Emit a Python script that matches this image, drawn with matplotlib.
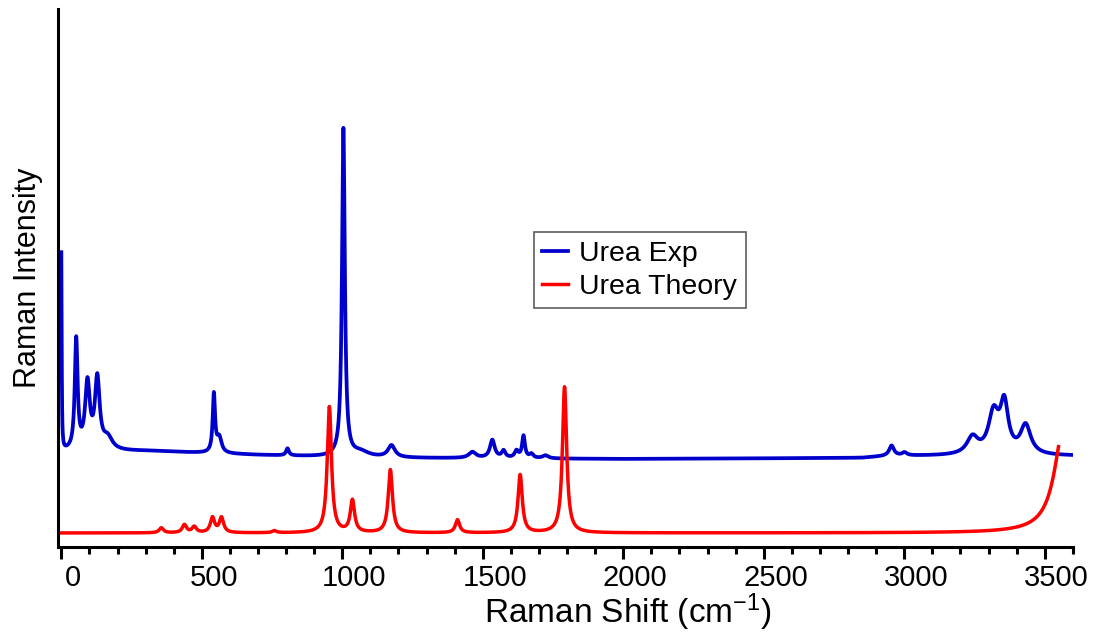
import numpy as np
import matplotlib.pyplot as plt
from matplotlib.transforms import ScaledTranslation

plt.rcParams['font.family'] = ['Liberation Sans', 'DejaVu Sans']
plt.rcParams['mathtext.fontset'] = 'custom'
plt.rcParams['mathtext.rm'] = 'Liberation Sans'
plt.rcParams['mathtext.it'] = 'Liberation Sans'

# measured Raman spectrum of urea: band centre (cm-1), height, half width
exp_center = [0, 53, 93, 128, 165, 543, 562, 805, 1004, 1065, 1175,
              1463, 1534, 1574, 1620, 1645, 1673, 1723,
              2955, 3001, 3243, 3318, 3356, 3432]
exp_height = [197, 110, 66, 70, 12, 58, 15, 7, 328, 5, 12,
              6, 18, 7, 7, 22, 4, 3,
              10, 3, 17, 40, 48, 29]
exp_hwhm = [1.5, 6, 10, 10, 20, 5, 10, 6, 6, 35, 15,
            15, 10, 8, 8, 6, 8, 12,
            10, 10, 24, 22, 17, 22]
# background under the measured spectrum
exp_bg_x = [0, 300, 500, 700, 950, 1200, 2000, 2850, 2950, 3600]
exp_bg_y = [95, 96, 94, 92, 90, 89, 88, 89, 91, 91]

# computed (DFT) spectrum, plotted with an offset below the measurement
th_center = [356, 438, 473, 538, 570, 758, 954, 1036, 1171, 1410, 1633, 1791, 3570]
th_height = [5, 8, 6, 15, 15, 2, 126, 32, 63, 13, 58, 146, 109]
th_hwhm = [9, 9, 9, 9, 9, 9, 9, 9, 9, 9, 9, 9, 41]
th_offset = 14


def lorentz_sum(x, centers, heights, widths):
    y = np.zeros_like(x)
    for c, h, w in zip(centers, heights, widths):
        y += h / (1 + ((x - c) / w) ** 2)
    return y


x_exp = np.arange(0, 3596, 1.0)
y_exp = np.interp(x_exp, exp_bg_x, exp_bg_y) + lorentz_sum(x_exp, exp_center, exp_height, exp_hwhm)

x_th = np.arange(0, 3550, 1.0)
y_th = th_offset + lorentz_sum(x_th, th_center, th_height, th_hwhm)

fig = plt.figure(figsize=(11.06, 6.35), dpi=100)
ax = fig.add_axes([0.0524, 0.1386, 0.9176, 0.8472])

ax.plot(x_exp, y_exp, color='#0000cc', lw=2.7, label='Urea Exp')
ax.plot(x_th, y_th, color='#ff0000', lw=2.5, label='Urea Theory')

ax.set_xlim(-12, 3600)
ax.set_ylim(0, 538)
ax.set_xticks(np.arange(0, 3501, 500))
ax.set_xticks(np.arange(0, 3601, 100), minor=True)
ax.set_yticks([])

for side in ['top', 'right']:
    ax.spines[side].set_visible(False)
for side in ['left', 'bottom']:
    ax.spines[side].set_linewidth(2.2)

ax.tick_params(axis='x', which='major', length=8.6, width=2.2, pad=4, labelsize=21)
ax.tick_params(axis='x', which='minor', length=4.7, width=2.2)
# numbers sit a little right of their ticks
shift = ScaledTranslation(0.12, 0, fig.dpi_scale_trans)
for lab in ax.get_xticklabels():
    lab.set_transform(lab.get_transform() + shift)

ax.set_xlabel('Raman Shift (cm$^{-1}$)', fontsize=24)
ax.xaxis.set_label_coords(0.5616, -0.082)
ax.set_ylabel('Raman Intensity', fontsize=22, labelpad=11)

leg = ax.legend(loc='upper left', bbox_to_anchor=(0.469, 0.585), fontsize=20.5,
                fancybox=False, frameon=True, handlelength=0.9, handletextpad=0.4,
                borderpad=0.3, labelspacing=0.25, borderaxespad=0)
leg.get_frame().set_edgecolor('#333333')
leg.get_frame().set_linewidth(1.2)

fig.savefig('out.png', dpi=100)
